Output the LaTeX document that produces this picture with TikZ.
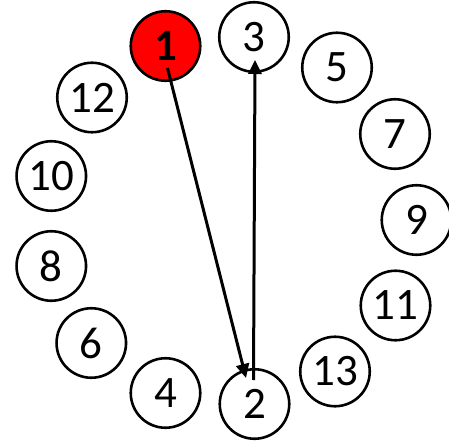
\documentclass[tikz,border=0pt]{standalone}
\usepackage{fontspec}
\setmainfont{Carlito}
\usetikzlibrary{calc,arrows.meta}
\begin{document}
\begin{tikzpicture}[x=1pt,y=-1pt,
  num/.style={circle,draw=black,line width=2.6pt,fill=white,minimum size=69.5pt,inner sep=0pt,
    font=\fontsize{45}{50}\selectfont},
  hot/.style={num,fill=red,font=\fontsize{45}{50}\selectfont\bfseries},
  arr/.style={line width=3pt,-{Triangle[length=14pt,width=13pt]}}]
\useasboundingbox (0,0) rectangle (449,443);
\node[hot] (n1) at (165.5,46) {1};
\node[num] (n3) at (254,37) {3};
\node[num] (n5) at (337,67.5) {5};
\node[num] (n7) at (395,134) {7};
\node[num] (n9) at (416.5,220) {9};
\node[num] (n11) at (395.5,305.5) {11};
\node[num] (n13) at (335,371.5) {13};
\node[num] (n2) at (254.5,404) {2};
\node[num] (n4) at (165.5,393) {4};
\node[num] (n6) at (91.3,343) {6};
\node[num] (n8) at (51.3,266) {8};
\node[num] (n10) at (51.3,176) {10};
\node[num] (n12) at (92,97.5) {12};
\draw[arr] ($(n1.center)+(2,22)$) -- ($(n2.center)+(-8.5,-26)$);
\draw[arr] ($(n2.center)+(-1,-24)$) -- ($(n3.center)+(1,23)$);
\end{tikzpicture}
\end{document}
